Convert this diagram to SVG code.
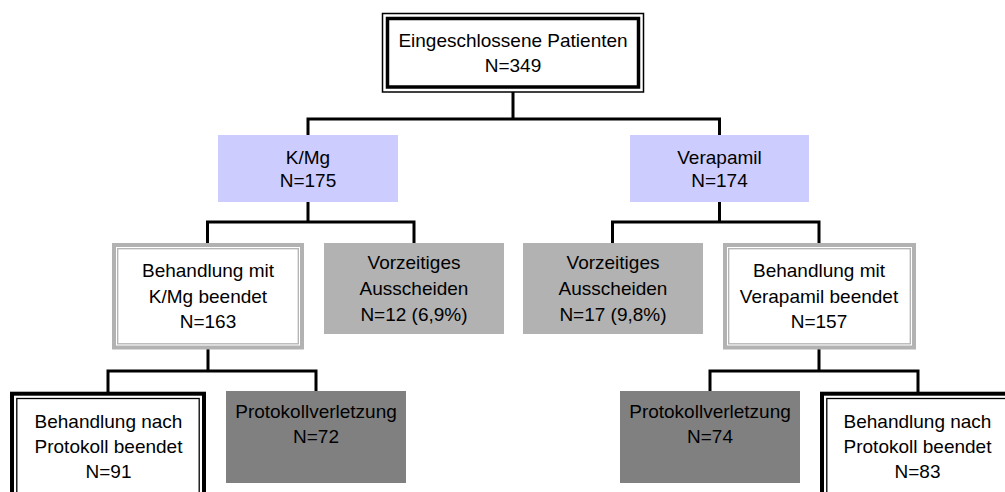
<svg xmlns="http://www.w3.org/2000/svg" width="1005" height="492" viewBox="0 0 1005 492">
<style>
text{font-family:"Liberation Sans",Arial,sans-serif;font-size:19px;fill:#000;text-anchor:middle}
.blue{fill:#ccccff;stroke:none}
.lgray{fill:#b2b2b2;stroke:none}
.dgray{fill:#808080;stroke:none}
.gout{fill:#fff;stroke:#b2b2b2;stroke-width:4}
.gin{fill:none;stroke:#b2b2b2;stroke-width:1.3}
.bthick{fill:#fff;stroke:#000;stroke-width:4}
.bthin{fill:none;stroke:#000;stroke-width:1.3}
.conn{fill:none;stroke:#000;stroke-width:3;stroke-linejoin:miter;stroke-linecap:butt}
</style>
<rect width="1005" height="492" fill="#fff"/>
<g id="connectors">
<path class="conn" d="M513 92 V119 M308 135 V119 H719.5 V135"/>
<path class="conn" d="M308 202 V222 M207.5 243 V222 H414 V243"/>
<path class="conn" d="M719.5 202 V222 M612.5 243 V222 H819 V243"/>
<path class="conn" d="M208 349 V371 M108 392 V371 H316 V391"/>
<path class="conn" d="M819 349 V371 M710 391 V371 H918 V392"/>
</g>
<g id="n_root">
<rect x="382.5" y="13.5" width="261" height="78.5" fill="#fff" stroke="#000" stroke-width="1.5"/>
<rect x="387.5" y="18.5" width="251" height="68.5" fill="none" stroke="#000" stroke-width="3.5"/>
<text x="513" y="47">Eingeschlossene Patienten</text>
<text x="513" y="71.5">N=349</text>
</g>
<g id="n_kmg">
<rect class="blue" x="218" y="135" width="180" height="67"/>
<text x="308" y="163.5">K/Mg</text>
<text x="308" y="187">N=175</text>
</g>
<g id="n_vera">
<rect class="blue" x="630" y="135" width="179" height="67"/>
<text x="719.5" y="163.5">Verapamil</text>
<text x="719.5" y="187">N=174</text>
</g>
<g id="n_kmg_done">
<rect class="gout" x="114" y="245" width="188" height="102.5"/>
<rect class="gin" x="117.7" y="248.7" width="180.6" height="95.1"/>
<text x="208" y="277.3">Behandlung mit</text>
<text x="208" y="302.5">K/Mg beendet</text>
<text x="208" y="327.5">N=163</text>
</g>
<g id="n_kmg_drop">
<rect class="lgray" x="324" y="243" width="180" height="91"/>
<text x="414" y="268.5">Vorzeitiges</text>
<text x="414" y="294.5">Ausscheiden</text>
<text x="414" y="320.5">N=12 (6,9%)</text>
</g>
<g id="n_vera_drop">
<rect class="lgray" x="523" y="243" width="180" height="91"/>
<text x="613" y="269">Vorzeitiges</text>
<text x="613" y="295">Ausscheiden</text>
<text x="613" y="321">N=17 (9,8%)</text>
</g>
<g id="n_vera_done">
<rect class="gout" x="725" y="245" width="189" height="102.5"/>
<rect class="gin" x="728.7" y="248.7" width="181.6" height="95.1"/>
<text x="819" y="277.3">Behandlung mit</text>
<text x="819" y="302.5">Verapamil beendet</text>
<text x="819" y="327.5">N=157</text>
</g>
<g id="n_kmg_pp">
<rect class="bthick" x="12" y="393.7" width="192" height="110"/>
<rect class="bthin" x="16.8" y="398.5" width="182.4" height="110"/>
<text x="108.5" y="427.5">Behandlung nach</text>
<text x="108.5" y="452.5">Protokoll beendet</text>
<text x="108.5" y="478">N=91</text>
</g>
<g id="n_kmg_viol">
<rect class="dgray" x="226" y="391" width="180" height="92"/>
<text x="316" y="417.5">Protokollverletzung</text>
<text x="316" y="443">N=72</text>
</g>
<g id="n_vera_viol">
<rect class="dgray" x="620" y="391" width="180" height="92"/>
<text x="710" y="417.5">Protokollverletzung</text>
<text x="710" y="443">N=74</text>
</g>
<g id="n_vera_pp">
<rect class="bthick" x="822" y="393.7" width="192" height="110"/>
<rect class="bthin" x="826.8" y="398.5" width="182.4" height="110"/>
<text x="917.5" y="427.5">Behandlung nach</text>
<text x="917.5" y="452.5">Protokoll beendet</text>
<text x="917.5" y="478">N=83</text>
</g>
</svg>
